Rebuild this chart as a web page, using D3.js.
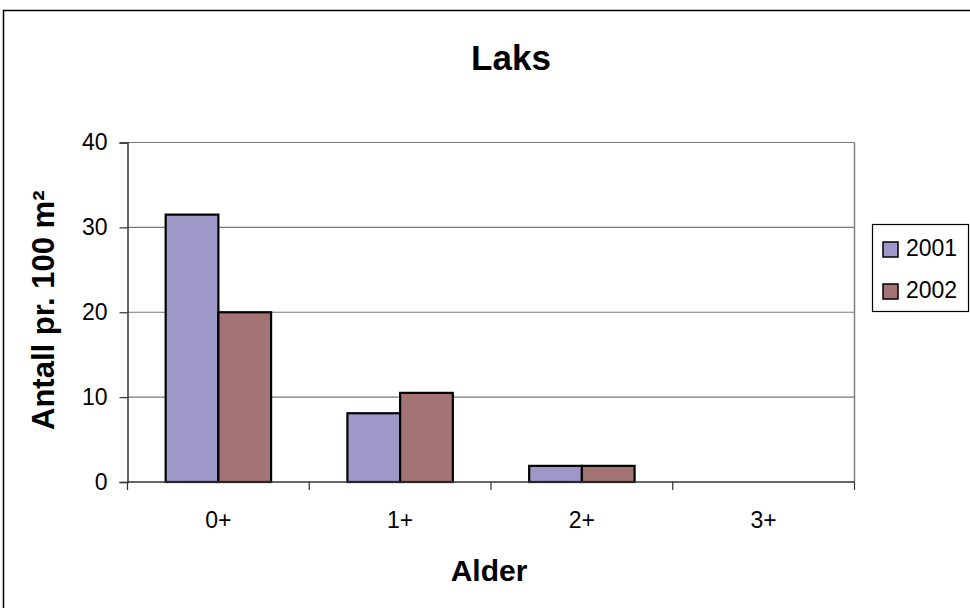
<!DOCTYPE html>
<html>
<head>
<meta charset="utf-8">
<script src="https://cdn.jsdelivr.net/npm/d3@7"></script>
<style>
  html, body { margin: 0; padding: 0; background: #fff; }
  svg { display: block; font-family: Arial, "Liberation Sans", sans-serif; }
</style>
</head>
<body>
<svg id="chart" width="970" height="608"></svg>
<script>
// Age classes and densities (fish per 100 m²)
const categories = ["0+", "1+", "2+", "3+"];
const seriesNames = ["2001", "2002"];
const values2001 = [31.5, 8.1, 1.9, 0];
const values2002 = [20.0, 10.5, 1.9, 0];
const yTicks = [0, 10, 20, 30, 40];
const colors = ["#9E98C8", "#A47474"];

const seriesValues = [values2001, values2002];
const svg = d3.select("#chart");
const W = 970, H = 608;

// Outer chart frame
svg.append("rect")
  .attr("x", 3.5).attr("y", 10.5)
  .attr("width", W + 20).attr("height", H + 20)
  .attr("fill", "#fff").attr("stroke", "#000").attr("stroke-width", 1.5);

const plot = { left: 127.5, top: 142.5, right: 854.5, bottom: 482 };

const x = d3.scaleBand()
  .domain(categories)
  .range([plot.left, plot.right])
  .paddingInner(0)
  .paddingOuter(0);

const groupShare = 0.58;
const xInner = d3.scaleBand()
  .domain(seriesNames)
  .range([0, x.bandwidth() * groupShare]);

const y = d3.scaleLinear().domain([0, 40]).range([plot.bottom, plot.top]);

// Horizontal gridlines
svg.append("g")
  .selectAll("line")
  .data(yTicks.filter(t => t > 0))
  .join("line")
  .attr("x1", plot.left).attr("x2", plot.right)
  .attr("y1", d => y(d)).attr("y2", d => y(d))
  .attr("stroke", "#777").attr("stroke-width", 1.2);

// Right edge of plot area
svg.append("line")
  .attr("x1", plot.right).attr("x2", plot.right)
  .attr("y1", plot.top).attr("y2", plot.bottom)
  .attr("stroke", "#808080").attr("stroke-width", 1.5);

// Bars
const groups = svg.append("g")
  .selectAll("g")
  .data(categories)
  .join("g")
  .attr("transform", d => `translate(${x(d) + x.bandwidth() * (1 - groupShare) / 2},0)`);

groups.selectAll("rect")
  .data((d, i) => seriesNames.map((s, j) => ({ s, v: seriesValues[j][i], j })))
  .join("rect")
  .filter(d => d.v > 0)
  .attr("x", d => xInner(d.s))
  .attr("width", xInner.bandwidth())
  .attr("y", d => y(d.v))
  .attr("height", d => y(0) - y(d.v))
  .attr("fill", d => colors[d.j])
  .attr("stroke", "#000").attr("stroke-width", 2.2);

// Y axis
const yAxis = d3.axisLeft(y).tickValues(yTicks).tickSize(8).tickPadding(12)
  .tickFormat(d3.format("d"));
const gy = svg.append("g").attr("transform", `translate(${plot.left},0)`).call(yAxis);
gy.select(".domain").attr("stroke", "#333").attr("stroke-width", 1.5);
gy.selectAll(".tick line").attr("stroke", "#333").attr("stroke-width", 1.2);
gy.selectAll(".tick text").attr("font-size", 23).attr("fill", "#000")
  .attr("font-family", "Arial, 'Liberation Sans', sans-serif");

// X axis: tick marks at category boundaries, labels centred in bands
svg.append("line")
  .attr("x1", plot.left).attr("x2", plot.right)
  .attr("y1", plot.bottom).attr("y2", plot.bottom)
  .attr("stroke", "#333").attr("stroke-width", 1.5);
const bounds = categories.map(c => x(c)).concat([plot.right]);
svg.append("g").selectAll("line")
  .data(bounds)
  .join("line")
  .attr("x1", d => d).attr("x2", d => d)
  .attr("y1", plot.bottom).attr("y2", plot.bottom + 8)
  .attr("stroke", "#333").attr("stroke-width", 1.2);
svg.append("g").selectAll("text")
  .data(categories)
  .join("text")
  .attr("x", d => x(d) + x.bandwidth() / 2)
  .attr("y", 528)
  .attr("text-anchor", "middle")
  .attr("font-size", 23)
  .text(d => d);

// Titles
svg.append("text")
  .attr("x", (plot.left + plot.right) / 2 + 20).attr("y", 70)
  .attr("text-anchor", "middle").attr("font-size", 35).attr("font-weight", "bold")
  .text("Laks");

svg.append("text")
  .attr("x", (plot.left + plot.right) / 2 - 2).attr("y", 581)
  .attr("text-anchor", "middle").attr("font-size", 30).attr("font-weight", "bold")
  .text("Alder");

svg.append("text")
  .attr("transform", `translate(54,${(plot.top + plot.bottom) / 2 - 2}) rotate(-90)`)
  .attr("text-anchor", "middle").attr("font-size", 31).attr("font-weight", "bold")
  .text("Antall pr. 100 m²");

// Legend
const legend = svg.append("g");
legend.append("rect")
  .attr("x", 872.5).attr("y", 224.5).attr("width", 96).attr("height", 87)
  .attr("fill", "#fff").attr("stroke", "#000").attr("stroke-width", 1.2);
const items = legend.selectAll("g.item")
  .data(seriesNames)
  .join("g")
  .attr("class", "item")
  .attr("transform", (d, i) => `translate(883,${242 + i * 42})`);
items.append("rect")
  .attr("width", 15).attr("height", 15)
  .attr("fill", (d, i) => colors[i])
  .attr("stroke", "#000").attr("stroke-width", 1.5);
items.append("text")
  .attr("x", 23).attr("y", 14)
  .attr("font-size", 23)
  .text(d => d);
</script>
</body>
</html>
